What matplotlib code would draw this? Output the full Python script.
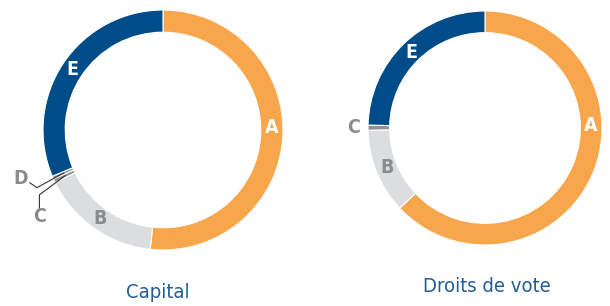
import numpy as np
import matplotlib.pyplot as plt

plt.rcParams['font.family'] = ['DejaVu Sans']

# ---- data ----
labels = ['A', 'B', 'C', 'D', 'E']
capital = [51.7, 16.1, 0.5, 0.4, 31.3]
votes = [63.0, 11.7, 0.7, 0.0, 24.6]
titles = ['Capital', 'Droits de vote']

colors = ['#F8A64B', '#DCDDDE', '#8F9091', '#8F9091', '#004C88']
txt_col = ['white', '#8A8B8C', '#8A8B8C', '#8A8B8C', 'white']
title_col = '#225E95'

W, H = 610, 306
fig = plt.figure(figsize=(W / 100, H / 100), dpi=100)

# centre x, centre y (px from top), radius in px
geom = [(163, 130, 120), (485, 128, 117)]


def mid_angle(vals, i):
    tot = sum(vals)
    start = 90 - 360 * sum(vals[:i]) / tot
    span = 360 * vals[i] / tot
    return np.deg2rad(start - span / 2)


axes = []
for k, vals in enumerate([capital, votes]):
    cx, cy, r = geom[k]
    ax = fig.add_axes([(cx - r) / W, (H - cy - r) / H, 2 * r / W, 2 * r / H])
    ax.pie(vals, colors=colors, startangle=90, counterclock=False,
           radius=1.0, wedgeprops=dict(width=0.185, edgecolor='white', linewidth=0.8))
    ax.set_xlim(-1, 1)
    ax.set_ylim(-1, 1)
    ax.set_aspect('equal')
    ax.axis('off')
    axes.append(ax)

    # in-ring labels for A, B, E (A sits at 3 o'clock)
    for i in [0, 1, 4]:
        a = 0.02 if i == 0 else mid_angle(vals, i)
        ax.text(0.905 * np.cos(a), 0.905 * np.sin(a), labels[i], color=txt_col[i],
                fontsize=14, fontweight='bold', fontstretch='condensed',
                ha='center', va='center')

# titles
fig.text(158 / W, 1 - 292 / H, titles[0], color=title_col, fontsize=14.5,
         fontstretch='condensed', ha='center', va='center')
fig.text(487 / W, 1 - 287 / H, titles[1], color=title_col, fontsize=14.5,
         fontstretch='condensed', ha='center', va='center')

# left chart: C and D with leader lines
ax = axes[0]
for i, (knee, tpos) in zip([2, 3], [((-1.03, -0.54), (-1.03, -0.72)),
                                      ((-1.05, -0.48), (-1.19, -0.40))]):
    a = mid_angle(capital, i)
    end = (0.9 * np.cos(a), 0.9 * np.sin(a))
    if i == 2:
        ax.plot([tpos[0], knee[0], end[0]], [tpos[1] + 0.06, knee[1], end[1]],
                color='#333333', lw=0.8, clip_on=False)
    else:
        ax.plot([tpos[0] + 0.08, knee[0], end[0]], [tpos[1] - 0.04, knee[1], end[1]],
                color='#333333', lw=0.8, clip_on=False)
    ax.text(tpos[0], tpos[1], labels[i], color=txt_col[i], fontsize=14,
            fontweight='bold', fontstretch='condensed', ha='center', va='center')

# right chart: C label outside
ax = axes[1]
a = mid_angle(votes, 2)
ax.text(1.12 * np.cos(a), 1.12 * np.sin(a), labels[2], color=txt_col[2], fontsize=14,
        fontweight='bold', fontstretch='condensed', ha='center', va='center')

fig.savefig('out.png', dpi=100)
